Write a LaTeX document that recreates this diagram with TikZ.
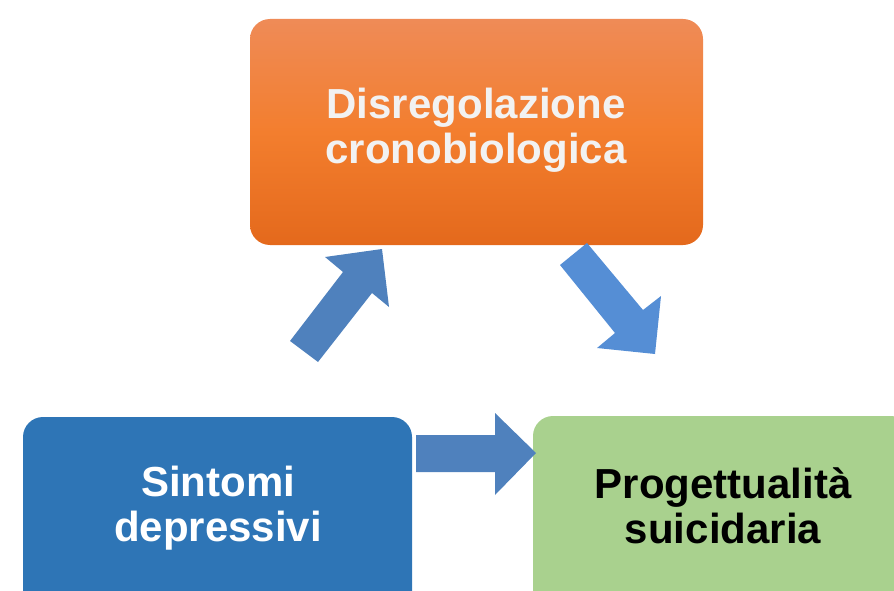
\documentclass[tikz,border=0pt]{standalone}
\usepackage{fontspec}
\setmainfont{Liberation Sans}
\definecolor{orTop}{HTML}{EF8B57}
\definecolor{orMid}{HTML}{F37E2E}
\definecolor{orBot}{HTML}{E4691C}
\definecolor{boxBlue}{HTML}{2E75B6}
\definecolor{boxGreen}{HTML}{A9D18E}
\definecolor{arrA}{HTML}{4F81BD}
\definecolor{arrB}{HTML}{558ED5}
\definecolor{txtLight}{HTML}{F2F2F2}
\tikzset{
  box/.style={rounded corners=20pt, inner sep=0pt, draw=none},
  lbl/.style={align=center, font=\fontsize{42}{45}\selectfont\bfseries, inner sep=0pt},
}
\begin{document}
\begin{tikzpicture}[x=1pt,y=-1pt]
\useasboundingbox (0,0) rectangle (894,591);
\begin{scope}
\clip (0,0) rectangle (894,591);
\node[box, minimum width=453pt, minimum height=226pt, top color=orTop, bottom color=orBot, middle color=orMid] (dis) at (476.5,132) {};
\node[box, fill=boxBlue, minimum width=389pt, minimum height=210pt] (sin) at (217.5,522) {};
\node[box, fill=boxGreen, minimum width=378pt, minimum height=210pt] (pro) at (722,521) {};
\node[lbl, text=txtLight] (tdis) at (476,130) {Disregolazione\\cronobiologica};
\node[lbl, text=white] (tsin) at (218,508) {Sintomi\\depressivi};
\node[lbl, text=black] (tpro) at (723,506) {Progettualità\\suicidaria};
% block arrows
\fill[arrA] (290,341) -- (343,272) -- (325,257) -- (382,249) -- (389,307) -- (372,293) -- (318,362) -- cycle;
\fill[arrB] (560,265) -- (587,243) -- (643,310) -- (661,296) -- (655,354) -- (597,348) -- (615,333) -- cycle;
\fill[arrA] (416,435) -- (495,435) -- (495,413) -- (536,453) -- (495,495) -- (495,472) -- (416,472) -- cycle;
\end{scope}
\end{tikzpicture}
\end{document}
